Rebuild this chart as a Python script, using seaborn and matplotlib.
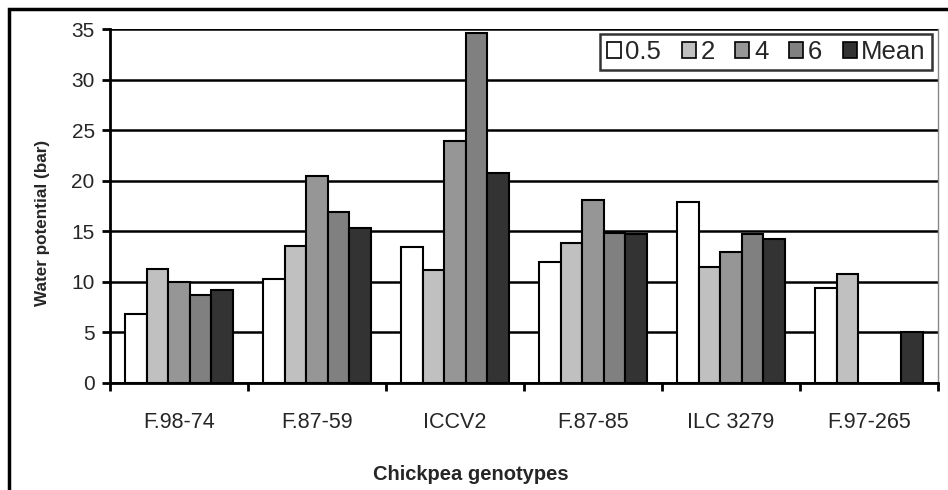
import numpy as np
import pandas as pd
import matplotlib
matplotlib.use("Agg")
import matplotlib.pyplot as plt
import seaborn as sns
from matplotlib.patches import Rectangle

genotypes = ["F.98-74", "F.87-59", "ICCV2", "F.87-85", "ILC 3279", "F.97-265"]
levels = ["0.5", "2", "4", "6", "Mean"]

val_05 = [6.8, 10.3, 13.5, 12.0, 17.9, 9.4]
val_2 = [11.3, 13.6, 11.2, 13.9, 11.5, 10.8]
val_4 = [10.0, 20.5, 24.0, 18.1, 13.0, np.nan]
val_6 = [8.7, 16.9, 34.6, 14.8, 14.7, np.nan]
val_mean = [9.2, 15.3, 20.8, 14.7, 14.3, 5.0]

colors = ["#ffffff", "#c0c0c0", "#969696", "#808080", "#333333"]

rows = []
for lev, vals in zip(levels, [val_05, val_2, val_4, val_6, val_mean]):
    for g, v in zip(genotypes, vals):
        rows.append({"Genotype": g, "Level": lev, "Value": v})
df = pd.DataFrame(rows)

sns.set_style("white")
plt.rcParams["font.family"] = ["Liberation Sans", "DejaVu Sans"]

fig = plt.figure(figsize=(9.48, 4.9), dpi=100)
ax = fig.add_axes([0.116, 0.2184, 0.8735, 0.7216])

sns.barplot(
    data=df,
    x="Genotype",
    y="Value",
    hue="Level",
    order=genotypes,
    hue_order=levels,
    palette=colors,
    width=0.78,
    gap=0,
    edgecolor="black",
    linewidth=1.5,
    errorbar=None,
    saturation=1,
    ax=ax,
    zorder=3,
)

ax.set_ylim(0, 35)
ax.set_xlim(-0.5, 5.5)
ax.set_yticks(np.arange(0, 36, 5))
ax.yaxis.grid(True, color="black", linewidth=1.8, zorder=0)
ax.set_axisbelow(True)

ax.set_xticks(np.arange(len(genotypes)))
ax.set_xticklabels(genotypes, fontsize=15.5)
ax.set_xticks(np.arange(-0.5, 6, 1), minor=True)
ax.tick_params(axis="x", which="major", length=0, pad=21)
ax.tick_params(axis="x", which="minor", direction="out", length=6, width=2, color="black")
ax.tick_params(axis="y", direction="out", length=6, width=2, color="black", labelsize=15, pad=5)
ax.yaxis.set_ticks_position("left")
ax.xaxis.set_ticks_position("bottom")

for side in ["left", "bottom"]:
    ax.spines[side].set_color("black")
    ax.spines[side].set_linewidth(2)
ax.spines["top"].set_visible(False)
ax.spines["right"].set_color("#888888")
ax.spines["right"].set_linewidth(1)

ax.set_xlabel("Chickpea genotypes", fontsize=14.5, fontweight="bold")
ax.xaxis.set_label_coords(0.436, -0.232)
ax.set_ylabel("Water potential (bar)", fontsize=12.3, fontweight="bold")
ax.yaxis.set_label_coords(-0.073, 0.452)

handles, labels = ax.get_legend_handles_labels()
leg = ax.legend(
    handles, labels,
    ncol=5,
    loc="upper right",
    bbox_to_anchor=(0.993, 0.988),
    fontsize=18.5,
    frameon=True,
    fancybox=False,
    shadow=False,
    edgecolor="black",
    handlelength=0.55,
    handleheight=0.55,
    handletextpad=0.18,
    columnspacing=0.8,
    borderpad=0.25,
    borderaxespad=0,
)
leg.get_frame().set_linewidth(1.8)
for h in leg.legend_handles:
    h.set_edgecolor("black")
    h.set_linewidth(1.2)

# outer chart border (cropped on right and bottom)
fig.patches.append(Rectangle((9 / 948, -0.2), 1.2, 1.2 - 9 / 490,
                             transform=fig.transFigure, fill=False,
                             edgecolor="black", linewidth=2.5))

fig.savefig("out.png", dpi=100)
